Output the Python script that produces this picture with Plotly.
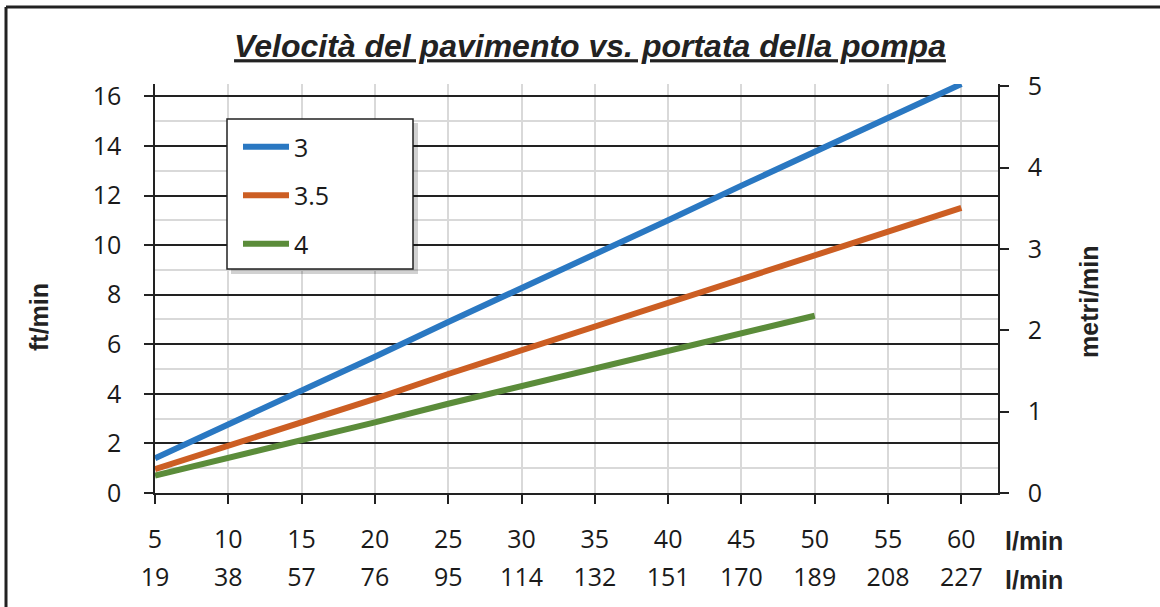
import plotly.graph_objects as go

# ---- data ----
flow_gpm = [5, 10, 15, 20, 25, 30, 35, 40, 45, 50, 55, 60]
flow_lmin_labels = ["19", "38", "57", "76", "95", "114", "132", "151", "170", "189", "208", "227"]
series_names = ["3", "3.5", "4"]
speed_3 = [1.4, 2.75, 4.1, 5.5, 6.9, 8.25, 9.6, 11.0, 12.4, 13.75, 15.1, 16.5]
speed_35 = [0.96, 1.9, 2.9, 3.8, 4.8, 5.75, 6.7, 7.65, 8.6, 9.6, 10.5, 11.5]
speed_4 = [0.7, 1.4, 2.15, 2.85, 3.6, 4.3, 5.0, 5.7, 6.4, 7.15]
ft_ticks = [0, 2, 4, 6, 8, 10, 12, 14, 16]
m_ticks = [0, 1, 2, 3, 4, 5]
FT_PER_M = 3.2808

colors = ["#2a78c2", "#cc5e23", "#5b8c3a"]

# ---- layout geometry (pixels) ----
W, H = 1160, 607
L, R, T, B = 155, 998, 84, 493
pw, ph = R - L, B - T


def px(x):
    return (x - L) / pw


def py(y):
    return (B - y) / ph


fig = go.Figure()
ys = [speed_3, speed_35, speed_4]
for i, (name, yv) in enumerate(zip(series_names, ys)):
    fig.add_trace(go.Scatter(
        x=flow_gpm[:len(yv)], y=yv, name=name, mode="lines",
        line=dict(color=colors[i], width=6), legendgroup=name,
        xaxis="x", yaxis="y"))

# invisible trace to realise the secondary axes (metres / l/min)
fig.add_trace(go.Scatter(
    x=flow_gpm, y=[v / FT_PER_M for v in speed_3], mode="lines",
    line=dict(width=0), opacity=0, showlegend=False, hoverinfo="skip",
    xaxis="x2", yaxis="y2"))

tick_font = dict(family="Open Sans", size=25, color="#1a1a1a")
ymax = 16.5

fig.update_layout(
    width=W, height=H,
    margin=dict(l=L, r=W - R, t=T, b=H - B),
    paper_bgcolor="white", plot_bgcolor="white",
    showlegend=True,
    xaxis=dict(range=[5, 62.5], tickvals=flow_gpm, ticktext=[str(v) for v in flow_gpm],
               showgrid=True, gridcolor="#d9d9d9", gridwidth=1.5,
               showline=True, linecolor="#222", linewidth=1.5,
               ticks="outside", ticklen=9, tickcolor="#222", tickwidth=1.5,
               tickfont=tick_font, ticklabelstandoff=14, zeroline=False),
    xaxis2=dict(range=[5, 62.5], overlaying="x", side="bottom", anchor="y2",
                tickvals=flow_gpm, ticktext=flow_lmin_labels,
                showgrid=False, showline=False, ticks="",
                tickfont=tick_font, ticklabelstandoff=67, zeroline=False),
    yaxis=dict(range=[0, ymax], tickvals=ft_ticks,
               showgrid=True, gridcolor="#222", gridwidth=1.5,
               minor=dict(dtick=1, showgrid=True, gridcolor="#d9d9d9", gridwidth=1.5, ticks=""),
               showline=True, linecolor="#222", linewidth=1.5,
               ticks="outside", ticklen=9, tickcolor="#222", tickwidth=1.5,
               tickfont=tick_font, ticklabelstandoff=18, zeroline=False),
    yaxis2=dict(range=[0, ymax / FT_PER_M], tickvals=m_ticks, overlaying="y", side="right",
                anchor="x2", showgrid=False,
                showline=True, linecolor="#222", linewidth=1.5,
                ticks="outside", ticklen=9, tickcolor="#222", tickwidth=1.5,
                tickfont=tick_font, ticklabelstandoff=14, zeroline=False),
    legend=dict(x=px(238), y=py(124), xanchor="left", yanchor="top",
                bgcolor="rgba(0,0,0,0)", borderwidth=0,
                font=dict(family="Open Sans", size=25, color="#1a1a1a"),
                tracegroupgap=13, itemwidth=46),
    title=dict(text="<b><i><u>Velocità del pavimento vs. portata della pompa</u></i></b>",
               x=590 / W, xref="container", xanchor="center",
               y=1 - 46 / H, yref="container", yanchor="middle",
               font=dict(family="Arial", size=32, color="#222")),
)

shapes = [
    # legend shadow + box
    dict(type="rect", xref="paper", yref="paper", x0=px(231), x1=px(418), y0=py(274), y1=py(123),
         fillcolor="rgba(0,0,0,0.18)", line=dict(width=0), layer="above"),
    dict(type="rect", xref="paper", yref="paper", x0=px(227), x1=px(413), y0=py(269), y1=py(119),
         fillcolor="white", line=dict(color="#222", width=1.5), layer="above"),
    # outer frame (top and left)
    dict(type="line", xref="paper", yref="paper", x0=px(6), x1=px(1165), y0=py(7), y1=py(7),
         line=dict(color="#222", width=3)),
    dict(type="line", xref="paper", yref="paper", x0=px(6), x1=px(6), y0=py(7), y1=py(612),
         line=dict(color="#222", width=3)),
]
fig.update_layout(shapes=shapes)

ann_font = dict(family="Arial", size=25, color="#222")
fig.add_annotation(text="<b>ft/min</b>", xref="paper", yref="paper", x=px(39), y=py(317),
                   textangle=-90, showarrow=False, font=ann_font, xanchor="center", yanchor="middle")
fig.add_annotation(text="<b>metri/min</b>", xref="paper", yref="paper", x=px(1089), y=py(302),
                   textangle=-90, showarrow=False, font=ann_font, xanchor="center", yanchor="middle")
fig.add_annotation(text="<b>l/min</b>", xref="paper", yref="paper", x=px(1003), y=py(541),
                   showarrow=False, font=ann_font, xanchor="left", yanchor="middle")
fig.add_annotation(text="<b>l/min</b>", xref="paper", yref="paper", x=px(1003), y=py(580),
                   showarrow=False, font=ann_font, xanchor="left", yanchor="middle")

fig.write_html("out.html", config={"displayModeBar": False},
               post_script="document.body.style.margin='0';document.body.style.overflow='hidden';")
